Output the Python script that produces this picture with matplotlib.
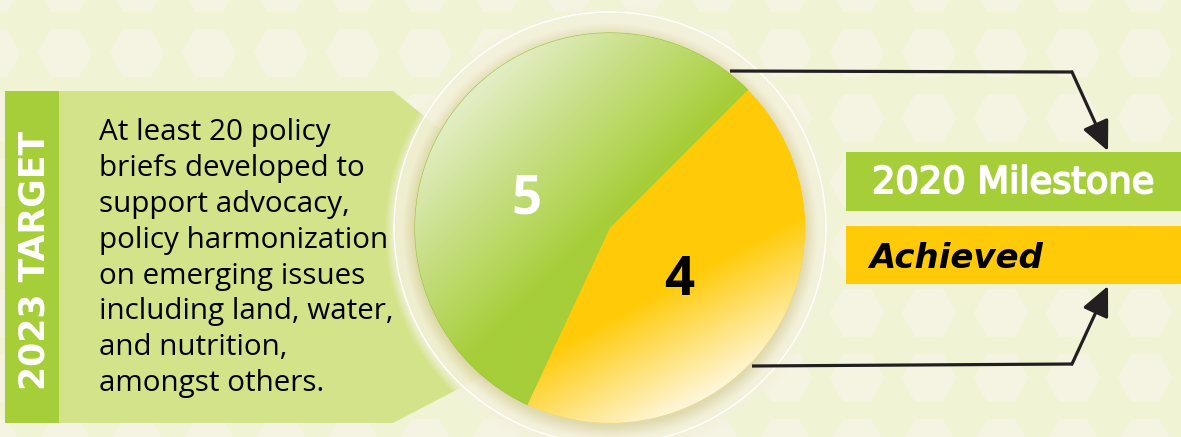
import numpy as np
import matplotlib
matplotlib.use("Agg")
import matplotlib.pyplot as plt
import matplotlib.patheffects as pe
from matplotlib.patches import RegularPolygon, Polygon, Rectangle, Circle

# ---------------- data ----------------
pie_values = [5, 4]
pie_labels = ["5", "4"]
pie_colors = ["#A6CE39", "#FFCB08"]
target_title = "2023 TARGET"
target_text = ["At least 20 policy", "briefs developed to", "support advocacy,",
               "policy harmonization", "on emerging issues",
               "including land, water,", "and nutrition,", "amongst others."]
milestone_title = "2020 Milestone"
milestone_status = "Achieved"

# ---------------- figure ----------------
W, H = 1181, 437
fig = plt.figure(figsize=(W / 100, H / 100), dpi=100)
ax = fig.add_axes([0, 0, 1, 1])

BG = "#F0F4D5"
HEX = "#F5F4E2"
GREEN = "#A6CE39"
LGREEN = "#D3E38A"
INK = "#231F20"

ax.add_patch(Rectangle((0, 0), W, H, facecolor=BG, edgecolor="none", zorder=0))
for yc in np.arange(-12, H + 40, 65):
    for xc in np.arange(-7, W + 40, 72):
        ax.add_patch(RegularPolygon((xc, yc), 6, radius=27.5, orientation=np.pi / 6,
                                    facecolor=HEX, edgecolor="none", zorder=1))

# left target panel
ax.add_patch(Polygon([(59, 91), (393, 91), (644, 292), (393, 423), (59, 423)],
                     closed=True, facecolor=LGREEN, edgecolor="none", zorder=2))
ax.add_patch(Rectangle((5, 91), 54, 332, facecolor=GREEN, edgecolor="none", zorder=3))
ax.text(45, 260, target_title, rotation=90, rotation_mode="anchor", ha="center",
        va="baseline", color="white", fontsize=25, fontweight="bold",
        family="DejaVu Sans", zorder=10)
for i, line in enumerate(target_text):
    ax.text(99, 140 + i * 35.9, line, ha="left", va="baseline", color="black",
            fontsize=21.3, family="Open Sans", zorder=10)

# halo around the pie
cx, cy, R = 610, 228, 195
RH = 216
ext = 232
xs = np.linspace(cx - ext, cx + ext, 600)
ys = np.linspace(cy - ext, cy + ext, 600)
XX, YY = np.meshgrid(xs, ys)
rr = np.hypot(XX - cx, YY - cy - 3)
c1 = np.array([244, 241, 219]) / 255
c2 = np.array([222, 215, 170]) / 255
t = np.clip((rr - R) / 13, 0, 1)[..., None]
rgb = c2 * (1 - t) + c1 * t
alpha = np.where(rr <= RH, 0.88, 0.88 * np.clip(1 - (rr - RH) / 10, 0, 1))
img = np.dstack([rgb, alpha])
ax.imshow(img, extent=(cx - ext, cx + ext, cy + ext, cy - ext), origin="upper",
          zorder=4, interpolation="bilinear")
ax.add_patch(Circle((cx, cy), RH, facecolor="none", edgecolor="white", lw=1.0, zorder=5))

# pie
wedges, _ = ax.pie(pie_values, colors=pie_colors, startangle=-45, counterclock=False,
                   center=(cx, cy), radius=R, frame=True,
                   wedgeprops=dict(linewidth=0, zorder=6))
for w in wedges:
    w.set_zorder(6)
wedges[0].set_edgecolor("#9CC43A")
wedges[0].set_linewidth(0.8)

# gradient shading for wedges
gx = np.linspace(cx - R, cx + R, 500)
gy = np.linspace(cy - R, cy + R, 500)
GX, GY = np.meshgrid(gx, gy)
s = (GX + GY) / np.sqrt(2)
tg = np.clip((s - 390) / (585 - 390), 0, 1)[..., None]
g_light = np.array([230, 239, 204]) / 255
g_full = np.array([166, 206, 57]) / 255
g_img = g_light * (1 - tg) + g_full * tg
im_g = ax.imshow(g_img, extent=(cx - R, cx + R, cy + R, cy - R), origin="upper",
                 zorder=7, interpolation="bilinear")
im_g.set_clip_path(wedges[0])
u = 0.474 * GX + 0.880 * GY
ty = np.clip((u - 570) / (690 - 570), 0, 1)[..., None]
y_full = np.array([255, 203, 8]) / 255
y_light = np.array([255, 249, 230]) / 255
y_img = y_full * (1 - ty) + y_light * ty
im_y = ax.imshow(y_img, extent=(cx - R, cx + R, cy + R, cy - R), origin="upper",
                 zorder=7, interpolation="bilinear")
im_y.set_clip_path(wedges[1])

ax.text(526, 213, pie_labels[0], ha="center", va="baseline", color="white",
        fontsize=38, fontweight="bold", family="Open Sans", zorder=10)
ax.text(679, 295, pie_labels[1], ha="center", va="baseline", color="black",
        fontsize=38, fontweight="bold", family="Open Sans", zorder=10)

# milestone boxes
ax.add_patch(Rectangle((846, 152), W - 846, 59, facecolor=GREEN, edgecolor="none", zorder=3))
ax.add_patch(Rectangle((846, 226), W - 846, 58, facecolor="#FFCB08", edgecolor="none", zorder=3))
ax.text(872, 193, milestone_title, ha="left", va="baseline", color="white",
        fontsize=26.5, family="DejaVu Sans", zorder=10,
        path_effects=[pe.withStroke(linewidth=1.4, foreground="white")])
ax.text(869, 268, milestone_status, ha="left", va="baseline", color="black",
        fontsize=24.5, fontweight="bold", style="italic", family="DejaVu Sans", zorder=10)

# connector arrows
lw = 2.3
ax.plot([730, 1073], [71, 72], color=INK, lw=lw, solid_capstyle="butt", zorder=9)
ax.annotate("", xy=(1108, 151), xytext=(1072, 72),
            arrowprops=dict(arrowstyle="-|>,head_length=0.9,head_width=0.42",
                            mutation_scale=20, lw=lw, color=INK,
                            shrinkA=0, shrinkB=0), zorder=9)
ax.plot([752, 1073], [366, 364], color=INK, lw=lw, solid_capstyle="butt", zorder=9)
ax.annotate("", xy=(1108, 286), xytext=(1072, 364),
            arrowprops=dict(arrowstyle="-|>,head_length=0.9,head_width=0.42",
                            mutation_scale=20, lw=lw, color=INK,
                            shrinkA=0, shrinkB=0), zorder=9)

ax.set_xlim(0, W)
ax.set_ylim(H, 0)
ax.set_aspect("auto")
ax.axis("off")
fig.savefig("out.png", dpi=100)
